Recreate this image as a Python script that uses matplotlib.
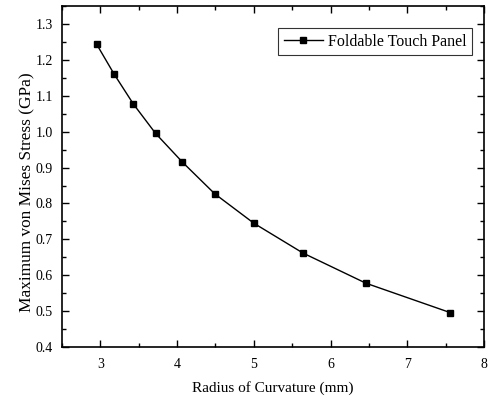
import matplotlib
matplotlib.use("Agg")
import matplotlib.pyplot as plt
from matplotlib.ticker import MultipleLocator

# --- Data ---
radius = [2.95, 3.18, 3.43, 3.72, 4.07, 4.49, 5.00, 5.64, 6.46, 7.56]
stress = [1.244, 1.160, 1.077, 0.995, 0.915, 0.827, 0.745, 0.662, 0.578, 0.496]
series_label = "Foldable Touch Panel"

plt.rcParams["font.family"] = ["Liberation Serif", "DejaVu Serif"]

fig = plt.figure(figsize=(4.92, 3.99), dpi=100)
ax = fig.add_axes([0.126, 0.130, 0.858, 0.855])

ax.plot(radius, stress, color="black", linewidth=1.0, marker="s",
        markersize=4.6, label=series_label)

ax.set_xlim(2.5, 8)
ax.set_ylim(0.4, 1.35)
ax.xaxis.set_major_locator(MultipleLocator(1))
ax.xaxis.set_minor_locator(MultipleLocator(0.5))
ax.yaxis.set_major_locator(MultipleLocator(0.1))
ax.yaxis.set_minor_locator(MultipleLocator(0.05))
ax.tick_params(which="both", direction="in", top=True, right=True, labelsize=10, width=1)
ax.tick_params(which="major", length=5)
ax.tick_params(which="minor", length=3)
ax.tick_params(axis="x", pad=8)
ax.tick_params(axis="y", pad=6.5)
for s in ax.spines.values():
    s.set_linewidth(1.2)

ax.set_xlabel("Radius of Curvature (mm)", fontsize=11, labelpad=7)
ax.set_ylabel("Maximum von Mises Stress (GPa)", fontsize=12.4)
ax.yaxis.set_label_coords(-0.062, 0.455)

leg = ax.legend(loc="upper right", bbox_to_anchor=(472 / 492, 1 - 28 / 399),
                bbox_transform=fig.transFigure, borderaxespad=0,
                fontsize=11.5, frameon=True, fancybox=False, borderpad=0.35,
                edgecolor="black", handlelength=2.45, handletextpad=0.3)
leg.get_frame().set_linewidth(0.8)

fig.savefig("out.png", dpi=100)
